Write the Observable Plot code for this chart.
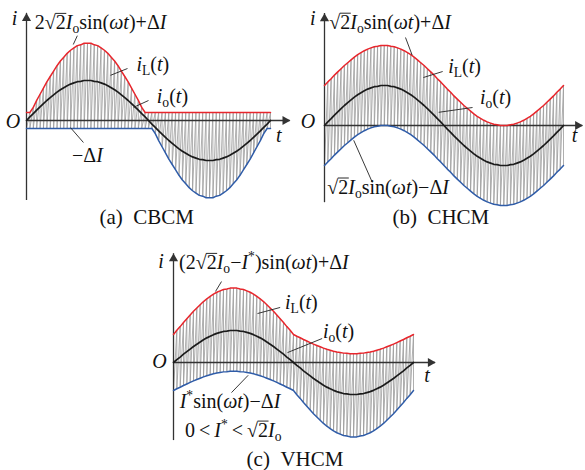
<!DOCTYPE html>
<html>
<head>
<meta charset="utf-8">
<script src="https://cdn.jsdelivr.net/npm/d3@7"></script>
<script src="https://cdn.jsdelivr.net/npm/@observablehq/plot@0.6"></script>
<style>
  html, body { margin: 0; padding: 0; background: #fff; }
  #wrap { position: relative; width: 585px; height: 470px; overflow: hidden; }
  #wrap svg { position: absolute; left: 0; top: 0; }
</style>
</head>
<body>
<div id="wrap"></div>
<script>
// ---------- data ----------
// phase angle of the line period, degrees
const angleDeg = [0,5,10,15,20,25,30,35,40,45,50,55,60,65,70,75,80,85,90,95,100,105,110,115,120,125,130,135,140,145,150,155,160,165,170,175,180,
  185,190,195,200,205,210,215,220,225,230,235,240,245,250,255,260,265,270,275,280,285,290,295,300,305,310,315,320,325,330,335,340,345,350,355,360];
// normalised output current i_o(t) (peak = 1)
const ioShape = [0,0.09,0.17,0.26,0.34,0.42,0.5,0.57,0.64,0.71,0.77,0.82,0.87,0.91,0.94,0.97,0.98,1,1,1,0.98,0.97,0.94,0.91,0.87,0.82,0.77,0.71,0.64,0.57,0.5,0.42,0.34,0.26,0.17,0.09,0,
  -0.09,-0.17,-0.26,-0.34,-0.42,-0.5,-0.57,-0.64,-0.71,-0.77,-0.82,-0.87,-0.91,-0.94,-0.97,-0.98,-1,-1,-1,-0.98,-0.97,-0.94,-0.91,-0.87,-0.82,-0.77,-0.71,-0.64,-0.57,-0.5,-0.42,-0.34,-0.26,-0.17,-0.09,0];
// envelope parameters read per panel (units of i_o peak)
const cbcmGain = 1.93, cbcmDeltaI = 0.2;                    // (a) 2√2Io sin + ΔI, -ΔI
const chcmDeltaI = 1.0;                                     // (b) √2Io sin ± ΔI
const vhcmGain = 1.45, vhcmIstar = 0.6, vhcmDeltaI = 0.875; // (c)
const panelCaptions = ["(a)\u2002CBCM", "(b)\u2002CHCM", "(c)\u2002VHCM"];

// ---------- envelopes built from the arrays ----------
const upA = ioShape.map(v => Math.max(cbcmDeltaI, cbcmGain * v));
const loA = ioShape.map(v => Math.min(-cbcmDeltaI, cbcmGain * v));
const upB = ioShape.map(v => v + chcmDeltaI);
const loB = ioShape.map(v => v - chcmDeltaI);
const upC = ioShape.map(v => (v >= 0 ? vhcmGain : vhcmIstar) * v + vhcmDeltaI);
const loC = ioShape.map(v => (v >= 0 ? vhcmIstar : vhcmGain) * v - vhcmDeltaI);

const toPts = arr => angleDeg.map((a, i) => ({x: a, y: arr[i]}));
// inductor current: rises from the lower to the upper envelope, then falls back, once per sample
const saw = (up, lo) => angleDeg.flatMap((a, i) => [{x: a, y: up[i]}, {x: a, y: lo[i]}]);

const SERIF = "'Liberation Serif','Times New Roman',serif";
const RED = "#e8262c", BLUE = "#2f5ca8", GRAY = "#9a9a9a", INK = "#1b1b1b";

// ---------- per-panel layout ----------
const panels = [
  { up: upA, lo: loA, xr: [26, 270], y0: 120, amp: 40, xTip: 389, yTop: 2.68, yBot: -2.0,
    leaders: [[69, 1.9, 75, 2.12], [124, 1.13, 149, 1.3], [158, 0.33, 180, 0.5], [65, -0.18, 84, -0.55]],
    labels: [
      {x: -21, y: 2.37, s: [["i","i"]]},
      {x: 13, y: 2.27, s: [["2"],["\u221A"],["2","o"],["I","i"],["o","b"],["sin("],["\u03C9t","i"],[")+\u0394"],["I","i"]]},
      {x: 163, y: 1.22, s: [["i","i"],["L","b"],["("],["t","i"],[")"]]},
      {x: 193, y: 0.43, s: [["i","i"],["o","b"],["("],["t","i"],[")"]]},
      {x: 68, y: -1.05, s: [["\u2212\u0394"],["I","i"]]},
      {x: -30, y: -0.2, s: [["O","i"]]},
      {x: 369, y: -0.55, s: [["t","i"]]},
      {x: 178, y: -2.6, s: [[panelCaptions[0]]], cap: true}
    ]},
  { up: upB, lo: loB, xr: [324, 563], y0: 125, amp: 40, xTip: 389, yTop: 2.8, yBot: -1.93,
    leaders: [[122, 2.2, 132, 1.76], [149, 1.2, 178, 1.35], [172, 0.33, 223, 0.45], [44, -0.37, 72, -1.42]],
    labels: [
      {x: -21, y: 2.5, s: [["i","i"]]},
      {x: 8, y: 2.4, s: [["\u221A"],["2","o"],["I","i"],["o","b"],["sin("],["\u03C9t","i"],[")+\u0394"],["I","i"]]},
      {x: 187, y: 1.3, s: [["i","i"],["L","b"],["("],["t","i"],[")"]]},
      {x: 235, y: 0.52, s: [["i","i"],["o","b"],["("],["t","i"],[")"]]},
      {x: 5, y: -1.72, s: [["\u221A"],["2","o"],["I","i"],["o","b"],["sin("],["\u03C9t","i"],[")\u2212\u0394"],["I","i"]]},
      {x: -35, y: -0.08, s: [["O","i"]]},
      {x: 373, y: -0.42, s: [["t","i"]]},
      {x: 176, y: -2.48, s: [[panelCaptions[1]]], cap: true}
    ]},
  { up: upC, lo: loC, xr: [173, 413], y0: 362, amp: 32, xTip: 393, yTop: 3.4, yBot: -2.44,
    leaders: [[63, 2.22, 72, 2.53], [126, 1.53, 160, 1.72], [171, 0.31, 223, 0.75], [112, -0.4, 87, -0.94]],
    labels: [
      {x: -22, y: 2.94, s: [["i","i"]]},
      {x: 9, y: 2.9, s: [["(2"],["\u221A"],["2","o"],["I","i"],["o","b"],["\u2212"],["I","i"],["*","p"],[")sin("],["\u03C9t","i"],[")+\u0394"],["I","i"]]},
      {x: 168, y: 1.66, s: [["i","i"],["L","b"],["("],["t","i"],[")"]]},
      {x: 225, y: 0.75, s: [["i","i"],["o","b"],["("],["t","i"],[")"]]},
      {x: 10, y: -1.44, s: [["I","i"],["*","p"],["sin("],["\u03C9t","i"],[")\u2212\u0394"],["I","i"]]},
      {x: 18, y: -2.34, s: [["0\u2009<\u2009"],["I","i"],["*","p"],["\u2009<\u2009\u221A"],["2","o"],["I","i"],["o","b"]]},
      {x: -31, y: -0.19, s: [["O","i"]]},
      {x: 377, y: -0.62, s: [["t","i"]]},
      {x: 183, y: -3.25, s: [[panelCaptions[2]]], cap: true}
    ]}
];

const wrap = document.getElementById("wrap");

function richText(svg, px, py, spec, size, anchor) {
  const g = d3.select(svg).append("g");
  const t = g.append("text")
    .attr("x", px).attr("y", py)
    .attr("font-family", SERIF).attr("font-size", size)
    .attr("text-anchor", anchor).attr("fill", "#111")
    .style("white-space", "pre");
  let shift = 0;
  const overs = [];
  for (const [str, f = ""] of spec) {
    const ts = t.append("tspan").text(str);
    const target = f.includes("b") ? 4 : f.includes("p") ? -8 : 0;
    if (target !== shift) { ts.attr("dy", target - shift); shift = target; }
    if (f.includes("b") || f.includes("p")) ts.attr("font-size", size * 0.68);
    if (f.includes("i")) ts.attr("font-style", "italic");
    if (f.includes("o")) overs.push(ts.node());
  }
  // radical bar over the radicand
  for (const node of overs) {
    const b = node.getBBox();
    const yb = py - size * 0.79;
    g.append("line")
      .attr("x1", b.x - 0.5).attr("x2", b.x + b.width + 0.5)
      .attr("y1", yb).attr("y2", yb)
      .attr("stroke", "#111").attr("stroke-width", 0.9);
  }
}

for (const p of panels) {
  const leaderData = p.leaders.map(([x1, y1, x2, y2]) => ({x1, y1, x2, y2}));
  const plot = Plot.plot({
    width: 585, height: 470,
    style: {background: "transparent", overflow: "visible"},
    x: {domain: [0, 360], range: p.xr, axis: null},
    y: {domain: [-1, 1], range: [p.y0 + p.amp, p.y0 - p.amp], axis: null},
    marks: [
      Plot.line(saw(p.up, p.lo), {x: "x", y: "y", stroke: GRAY, strokeWidth: 0.8}),
      Plot.ruleY([0], {x1: 0, x2: p.xTip, stroke: "#333", strokeWidth: 1.3}),
      Plot.ruleX([0], {y1: p.yBot, y2: p.yTop, stroke: "#333", strokeWidth: 1.3}),
      Plot.dot([{x: p.xTip, y: 0}], {x: "x", y: "y", symbol: "triangle", rotate: 90, r: 3.4, fill: "#333", stroke: "none", dx: -5}),
      Plot.dot([{x: 0, y: p.yTop}], {x: "x", y: "y", symbol: "triangle", r: 3.4, fill: "#333", stroke: "none", dy: 5}),
      Plot.line(toPts(p.up), {x: "x", y: "y", stroke: RED, strokeWidth: 1.5}),
      Plot.line(toPts(p.lo), {x: "x", y: "y", stroke: BLUE, strokeWidth: 1.5}),
      Plot.line(toPts(ioShape), {x: "x", y: "y", stroke: INK, strokeWidth: 1.7}),
      Plot.link(leaderData, {x1: "x1", y1: "y1", x2: "x2", y2: "y2", stroke: "#222", strokeWidth: 0.9})
    ]
  });
  wrap.appendChild(plot);
  const sx = plot.scale("x"), sy = plot.scale("y");
  const fx = sx.apply ? v => sx.apply(v) : d3.scaleLinear(sx.domain, sx.range);
  const fy = sy.apply ? v => sy.apply(v) : d3.scaleLinear(sy.domain, sy.range);
  for (const L of p.labels) {
    richText(plot, fx(L.x), fy(L.y), L.s, L.cap ? 21 : 20, L.cap ? "middle" : "start");
  }
}
</script>
</body>
</html>
